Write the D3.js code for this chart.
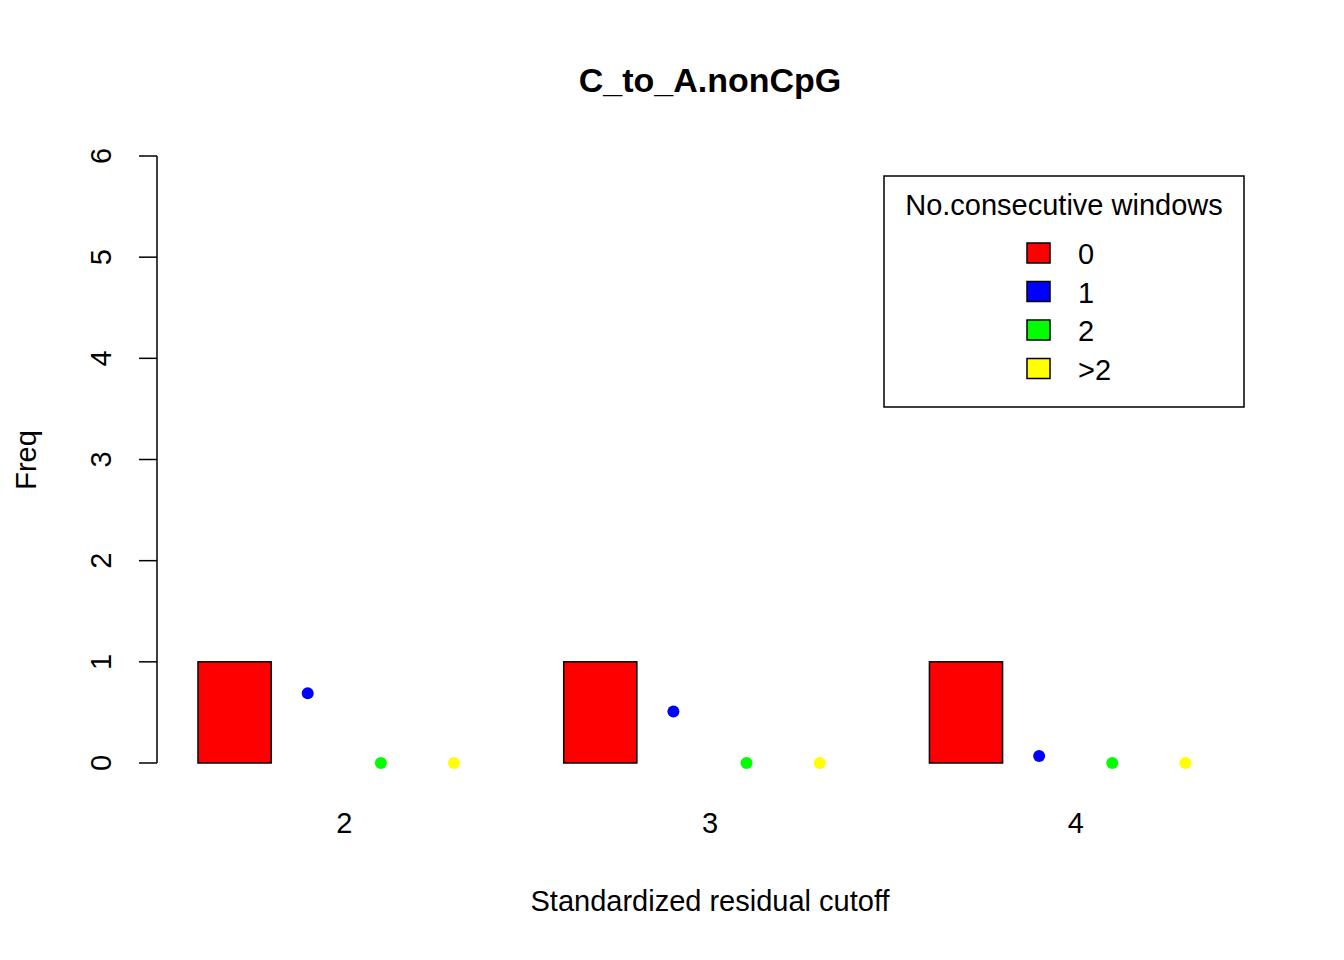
<!DOCTYPE html>
<html>
<head>
<meta charset="utf-8">
<script src="https://cdn.jsdelivr.net/npm/d3@7"></script>
<style>
body { margin: 0; background: #fff; }
text { font-family: "Liberation Sans", Arial, sans-serif; fill: #000; }
</style>
</head>
<body>
<div id="chart"></div>
<script>
// data
var cutoffs = ["2", "3", "4"];
var windowGroups = ["0", "1", "2", ">2"];
var groupColors = ["#ff0000", "#0000ff", "#00ff00", "#ffff00"];
// bar heights per cutoff, one value per window group
var barValues = [[1, 0, 0, 0], [1, 0, 0, 0], [1, 0, 0, 0]];
// points drawn over the bars
var pointValues = [[null, 0.69, 0, 0], [null, 0.51, 0, 0], [null, 0.07, 0, 0]];
var yTicks = [0, 1, 2, 3, 4, 5, 6];

var width = 1344, height = 960;
var svg = d3.select("#chart").append("svg")
    .attr("width", width)
    .attr("height", height);

// x in bar units (R barplot, space between groups = 1 bar)
var xScale = d3.scaleLinear().domain([1, 15]).range([198, 1222]);
var yScale = d3.scaleLinear().domain([0, 6]).range([763, 156]);

function barLeft(g, i) { return 1 + g * 5 + i; }

// bars
cutoffs.forEach(function(c, g) {
    svg.append("g").selectAll("rect")
        .data(barValues[g])
        .enter()
        .append("rect")
        .attr("x", function(d, i) { return xScale(barLeft(g, i)); })
        .attr("width", xScale(2) - xScale(1))
        .attr("y", function(d) { return yScale(d); })
        .attr("height", function(d) { return yScale(0) - yScale(d); })
        .attr("fill", function(d, i) { return groupColors[i]; })
        .attr("stroke", "#000")
        .attr("stroke-width", 1.5);

    svg.append("g").selectAll("circle")
        .data(pointValues[g].map(function(v, i) { return {v: v, i: i}; })
            .filter(function(d) { return d.v !== null; }))
        .enter()
        .append("circle")
        .attr("cx", function(d) { return xScale(barLeft(g, d.i) + 0.5); })
        .attr("cy", function(d) { return yScale(d.v); })
        .attr("r", 6)
        .attr("fill", function(d) { return groupColors[d.i]; });

    svg.append("text")
        .attr("x", xScale(barLeft(g, 2)))
        .attr("y", 833)
        .attr("text-anchor", "middle")
        .attr("font-size", "29px")
        .text(c);
});

// y axis
var yAxis = svg.append("g");
yAxis.append("line")
    .attr("x1", 157).attr("x2", 157)
    .attr("y1", yScale(0)).attr("y2", yScale(6))
    .attr("stroke", "#000").attr("stroke-width", 1.5);
yTicks.forEach(function(t) {
    yAxis.append("line")
        .attr("x1", 139).attr("x2", 157)
        .attr("y1", yScale(t)).attr("y2", yScale(t))
        .attr("stroke", "#000").attr("stroke-width", 1.5);
    yAxis.append("text")
        .attr("transform", "translate(111," + yScale(t) + ") rotate(-90)")
        .attr("text-anchor", "middle")
        .attr("font-size", "29px")
        .text(t);
});

// titles
svg.append("text")
    .attr("x", 710).attr("y", 92)
    .attr("text-anchor", "middle")
    .attr("font-size", "34px")
    .attr("font-weight", "bold")
    .text("C_to_A.nonCpG");
svg.append("text")
    .attr("x", 710).attr("y", 911)
    .attr("text-anchor", "middle")
    .attr("font-size", "29px")
    .text("Standardized residual cutoff");
svg.append("text")
    .attr("transform", "translate(36,460) rotate(-90)")
    .attr("text-anchor", "middle")
    .attr("font-size", "29px")
    .text("Freq");

// legend
var legend = svg.append("g");
legend.append("rect")
    .attr("x", 884).attr("y", 176)
    .attr("width", 360).attr("height", 231)
    .attr("fill", "none").attr("stroke", "#000").attr("stroke-width", 1.5);
legend.append("text")
    .attr("x", 1064).attr("y", 215)
    .attr("text-anchor", "middle")
    .attr("font-size", "29px")
    .text("No.consecutive windows");
windowGroups.forEach(function(w, i) {
    var cy = 253 + i * 38.5;
    legend.append("rect")
        .attr("x", 1027).attr("y", cy - 10)
        .attr("width", 23).attr("height", 20)
        .attr("fill", groupColors[i])
        .attr("stroke", "#000").attr("stroke-width", 1.5);
    legend.append("text")
        .attr("x", 1078).attr("y", cy + 11)
        .attr("font-size", "29px")
        .text(w);
});
</script>
</body>
</html>
